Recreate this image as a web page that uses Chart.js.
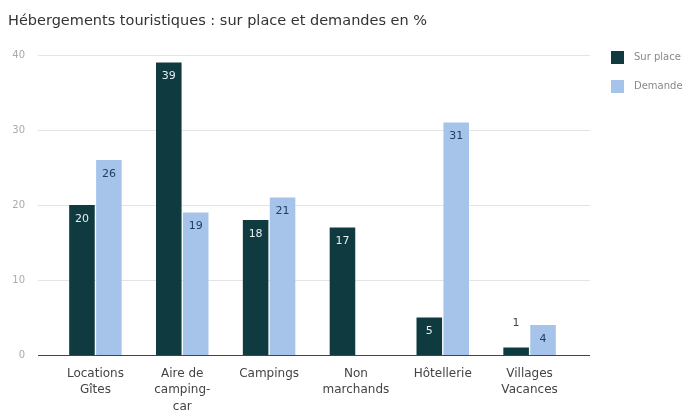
<!DOCTYPE html>
<html>
<head>
<meta charset="utf-8">
<script src="https://cdn.jsdelivr.net/npm/chart.js@4.4.1/dist/chart.umd.min.js"></script>
<style>
  html, body { margin: 0; padding: 0; background: #fff; }
  #wrap { width: 696px; height: 411px; }
</style>
</head>
<body>
<div id="wrap"><canvas id="hebChart" width="696" height="411"></canvas></div>
<script>
const categories = [['Locations', 'Gîtes'], ['Aire de', 'camping-', 'car'], 'Campings', ['Non', 'marchands'], 'Hôtellerie', ['Villages', 'Vacances']];
const surPlace = [20, 39, 18, 17, 5, 1];
const demande = [26, 19, 21, null, 31, 4];
const yTicks = [0, 10, 20, 30, 40];

const darkColor = '#0f3a40';
const lightColor = '#a6c4ea';
const fontFamily = '"DejaVu Sans", Verdana, sans-serif';

const ctx = document.getElementById('hebChart').getContext('2d');

// grid lines reach past the plot area on both sides
const wideGrid = {
    id: 'wideGrid',
    beforeDatasetsDraw(chart) {
        const c = chart.ctx;
        const y = chart.scales.y;
        c.save();
        yTicks.forEach(v => {
            const py = Math.round(y.getPixelForValue(v)) + 0.5;
            c.strokeStyle = v === 0 ? '#444' : '#e4e4e4';
            c.lineWidth = 1;
            c.beginPath();
            c.moveTo(38, py);
            c.lineTo(590, py);
            c.stroke();
        });
        c.restore();
    }
};

// value labels at the top of each bar
const barValues = {
    id: 'barValues',
    afterDatasetsDraw(chart) {
        const c = chart.ctx;
        c.save();
        c.font = '11px ' + fontFamily;
        c.textAlign = 'center';
        c.textBaseline = 'middle';
        chart.data.datasets.forEach((ds, i) => {
            chart.getDatasetMeta(i).data.forEach((bar, j) => {
                const v = ds.data[j];
                if (v === null || v === undefined) return;
                const h = bar.base - bar.y;
                if (h < 20) {
                    c.fillStyle = '#444';
                    c.fillText(v, bar.x, bar.y - 24);
                } else {
                    c.fillStyle = i === 0 ? '#e6eeee' : '#1d3f66';
                    c.fillText(v, bar.x, bar.y + 14);
                }
            });
        });
        c.restore();
    }
};

// legend on the right
const sideLegend = {
    id: 'sideLegend',
    afterDraw(chart) {
        const c = chart.ctx;
        c.save();
        c.font = '10px ' + fontFamily;
        c.textBaseline = 'middle';
        chart.data.datasets.forEach((ds, i) => {
            const y = 57 + i * 29;
            c.fillStyle = ds.backgroundColor;
            c.fillRect(611, y - 6, 13, 13);
            c.fillStyle = '#888';
            c.fillText(ds.label, 634, y);
        });
        c.restore();
    }
};

new Chart(ctx, {
    type: 'bar',
    data: {
        labels: categories,
        datasets: [{
            label: 'Sur place',
            data: surPlace,
            backgroundColor: darkColor,
            categoryPercentage: 0.62,
            barPercentage: 0.95
        }, {
            label: 'Demande',
            data: demande,
            backgroundColor: lightColor,
            categoryPercentage: 0.62,
            barPercentage: 0.95
        }]
    },
    options: {
        responsive: false,
        animation: false,
        layout: {
            padding: { left: 8, right: 123, top: 8, bottom: 0 }
        },
        plugins: {
            legend: { display: false },
            tooltip: { enabled: false },
            title: {
                display: true,
                text: 'Hébergements touristiques : sur place et demandes en %',
                align: 'start',
                color: '#333',
                font: { family: fontFamily, size: 14.5, weight: 'normal', lineHeight: 1.2 },
                padding: { top: 5, bottom: 24.6 }
            }
        },
        scales: {
            x: {
                grid: { display: false },
                border: { display: false },
                ticks: {
                    color: '#444',
                    padding: 2,
                    maxRotation: 0,
                    autoSkip: false,
                    font: { family: fontFamily, size: 12, lineHeight: 1.4 }
                },
                afterFit(scale) { scale.height = 56; }
            },
            y: {
                min: 0,
                max: 40,
                grid: { display: false },
                border: { display: false },
                ticks: {
                    stepSize: 10,
                    color: '#aaa',
                    padding: 19,
                    font: { family: fontFamily, size: 10 }
                },
                afterFit(scale) { scale.width = 44; }
            }
        }
    },
    plugins: [wideGrid, barValues, sideLegend]
});
</script>
</body>
</html>
